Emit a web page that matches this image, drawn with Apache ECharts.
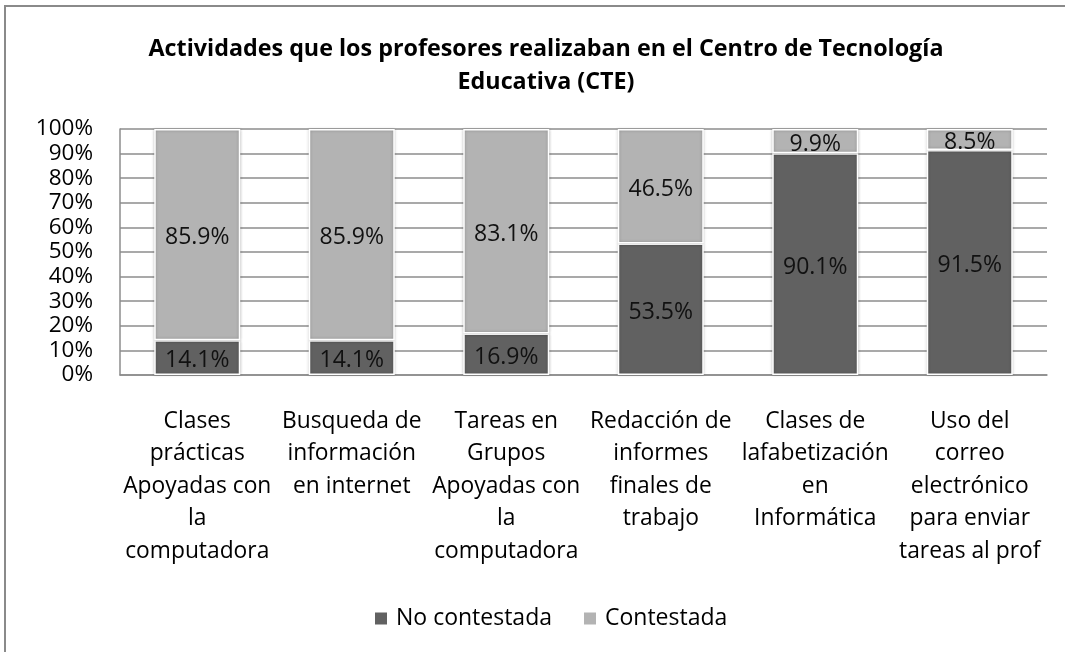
<!DOCTYPE html>
<html>
<head>
<meta charset="utf-8">
<script src="https://cdn.jsdelivr.net/npm/echarts@6/dist/echarts.min.js"></script>
<style>
	html, body { margin: 0; padding: 0; background: #fff; }
	#chart { width: 1065px; height: 652px; }
</style>
</head>
<body>
<div id="chart"></div>
<script>
	// categories, wrapped the way the original chart shows them
	var categories = [
		'Clases\nprácticas\nApoyadas con\nla\ncomputadora',
		'Busqueda de\ninformación\nen internet',
		'Tareas en\nGrupos\nApoyadas con\nla\ncomputadora',
		'Redacción de\ninformes\nfinales de\ntrabajo',
		'Clases de\nlafabetización\nen\nInformática',
		'Uso del\ncorreo\nelectrónico\npara enviar\ntareas al prof'
	];
	var noContestada = [14.1, 14.1, 16.9, 53.5, 90.1, 91.5];
	var contestada = [85.9, 85.9, 83.1, 46.5, 9.9, 8.5];
	var seriesNames = ['No contestada', 'Contestada'];

	var font = '"Open Sans", "Noto Sans", sans-serif';
	var chart = echarts.init(document.getElementById('chart'));

	function barSeries(name, data, color) {
		return {
			name: name,
			type: 'bar',
			stack: 'total',
			barWidth: 86,
			data: data,
			itemStyle: {
				color: color,
				borderColor: '#fff',
				borderWidth: 1.5,
				shadowBlur: 3,
				shadowColor: 'rgba(0,0,0,0.25)'
			},
			label: {
				show: true,
				position: 'inside',
				offset: [0, 3],
				color: '#111',
				fontFamily: font,
				fontSize: 23,
				formatter: function (p) { return p.value.toFixed(1) + '%'; }
			}
		};
	}

	var option = {
		animation: false,
		title: {
			text: 'Actividades que los profesores realizaban en el Centro de Tecnología\nEducativa (CTE)',
			left: 541,
			top: 28,
			textAlign: 'center',
			textStyle: {
				fontFamily: font,
				fontWeight: 'bold',
				fontSize: 23.3,
				lineHeight: 33,
				color: '#000'
			}
		},
		graphic: [{
			type: 'rect',
			shape: { x: 5, y: 6, width: 1100, height: 700 },
			style: { fill: 'none', stroke: '#8a8a8a', lineWidth: 2 },
			silent: true
		}],
		legend: {
			data: seriesNames,
			left: 368,
			top: 602,
			icon: 'rect',
			itemWidth: 14,
			itemHeight: 14,
			itemGap: 30,
			textStyle: {
				fontFamily: font,
				fontSize: 23,
				color: '#000',
				padding: [0, 0, 0, 3]
			}
		},
		grid: {
			left: 120,
			right: 18,
			top: 129,
			bottom: 277
		},
		xAxis: {
			type: 'category',
			data: categories,
			axisTick: { show: false },
			axisLine: { lineStyle: { color: '#8c8c8c', width: 1.5 } },
			axisLabel: {
				interval: 0,
				margin: 30,
				fontFamily: font,
				fontSize: 22.8,
				lineHeight: 32.5,
				color: '#000'
			}
		},
		yAxis: {
			type: 'value',
			min: 0,
			max: 100,
			interval: 10,
			axisLine: { show: true, lineStyle: { color: '#8c8c8c', width: 1.5 } },
			axisTick: { show: false },
			splitLine: { lineStyle: { color: '#8c8c8c', width: 1.5 } },
			axisLabel: {
				margin: 27,
				fontFamily: font,
				fontSize: 22.5,
				color: '#000',
				formatter: '{value}%'
			}
		},
		series: [
			barSeries(seriesNames[0], noContestada, '#616161'),
			barSeries(seriesNames[1], contestada, '#b3b3b3')
		]
	};

	chart.setOption(option);
</script>
</body>
</html>
